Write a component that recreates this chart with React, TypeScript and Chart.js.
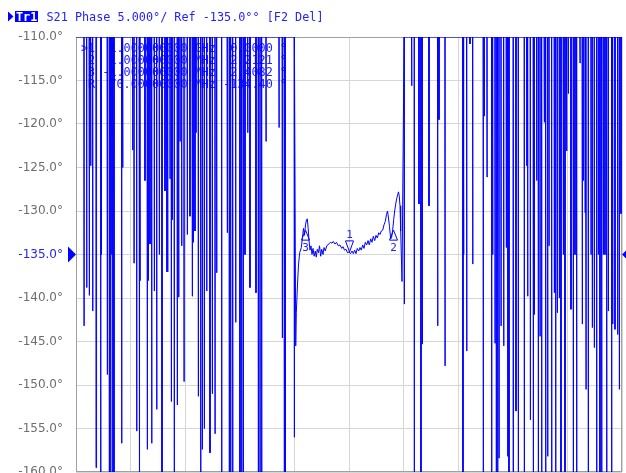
import React, { useEffect, useRef } from "react";
import { Chart, registerables } from "chart.js";

Chart.register(...registerables);

// ---- axis / scale values ----
const startMHz = 994;
const stopMHz = 1006;
const phaseMax = -110;
const phaseMin = -160;
const phaseStep = 5;
const refPhase = -135;

// ---- trace: noisy region on the left (dips from the clipped top) ----
const leftSpikeMHz = [
  994.176, 994.235, 994.292, 994.323, 994.367, 994.44, 994.455, 994.543, 994.556, 994.688,
  994.732, 994.763, 994.785, 994.807, 994.835, 995.004, 995.026, 995.246, 995.275, 995.334,
  995.391, 995.407, 995.516, 995.567, 995.589, 995.626, 995.664, 995.721, 995.774, 995.831,
  995.89, 995.956, 995.993, 996.015, 996.066, 996.095, 996.116, 996.16, 996.226, 996.257,
  996.286, 996.323, 996.374, 996.446, 996.505, 996.556, 996.578, 996.615, 996.637, 996.688,
  996.741, 996.776, 996.82, 996.873, 996.945, 996.996, 997.055, 997.092, 997.202, 997.325,
  997.369, 997.4, 997.444, 997.51, 997.604, 997.642, 997.677, 997.714, 997.774, 997.824,
  997.956, 998.007, 998.044, 998.081, 998.176, 998.462, 998.534, 998.578, 998.6, 998.798,
];
const leftSpikeDeg = [
  -143.2, -138.8, -139.7, -124.8, -141.5, -159.5, -123.8, -170, -135, -148.8,
  -170, -170, -135, -170, -170, -156.7, -125, -123, -136, -155.3,
  -170, -138, -126.5, -157.4, -138, -133.8, -156.7, -139.2, -152.8, -135,
  -170, -127.7, -137, -137, -126.3, -151.9, -131, -170, -152.3, -139.9,
  -122, -134, -149.6, -132.7, -130.6, -139.8, -133.6, -132.3, -121, -151.3,
  -170, -157.4, -155, -139.2, -157.8, -151, -155.6, -137.1, -170, -132.5,
  -170, -170, -170, -142.8, -170, -170, -170, -135, -121, -138.8,
  -139.4, -170, -170, -170, -122, -120.4, -144.6, -170, -170, -156,
];

// ---- trace: settled region around the centre ----
const centerMHz = [
  998.829, 998.842, 998.868, 998.89, 998.916, 998.952, 998.978, 999.0, 999.022, 999.044,
  999.066, 999.084, 999.103, 999.121, 999.143, 999.165, 999.187, 999.209, 999.235, 999.259,
  999.281, 999.303, 999.33, 999.352, 999.378, 999.4, 999.429, 999.451, 999.479, 999.51,
  999.538, 999.567, 999.598, 999.626, 999.655, 999.692, 999.725, 999.765, 999.802, 999.84,
  999.868, 999.901, 999.934, 999.967, 1000.0, 1000.033, 1000.066, 1000.095, 1000.125, 1000.154,
  1000.182, 1000.213, 1000.242, 1000.27, 1000.301, 1000.33, 1000.358, 1000.389, 1000.418, 1000.446,
  1000.477, 1000.505, 1000.534, 1000.565, 1000.593, 1000.622, 1000.653, 1000.681, 1000.71, 1000.741,
  1000.769, 1000.798, 1000.824, 1000.846, 1000.868, 1000.89, 1000.916, 1000.938, 1000.96, 1000.982,
  1001.004, 1001.026, 1001.048, 1001.07, 1001.088, 1001.105, 1001.121, 1001.136, 1001.15, 1001.165,
];
const centerDeg = [
  -145.5, -141.7, -138.5, -136.2, -134.8, -134.2, -133.0, -132.0, -132.8, -131.6,
  -131.0, -130.9, -132.0, -133.4, -134.5, -134.0, -135.0, -134.3, -135.2, -134.6,
  -135.3, -134.4, -134.8, -134.0, -135.2, -134.4, -135.0, -134.2, -134.6, -134.0,
  -133.9, -133.7, -133.6, -133.7, -133.5, -133.8, -133.6, -134.0, -133.9, -134.3,
  -134.1, -134.5, -134.4, -134.8, -134.7, -134.9, -134.6, -134.9, -134.5, -134.9,
  -134.3, -134.6, -134.2, -134.5, -133.9, -134.3, -133.6, -133.9, -133.4, -133.9,
  -133.2, -133.6, -132.9, -133.4, -132.8, -133.1, -132.5, -132.7, -132.3, -132.2,
  -131.6, -131.2, -130.4, -130.0, -130.8, -131.8, -133.2, -133.0, -132.2, -131.0,
  -130.0, -129.2, -128.6, -128.1, -127.8, -128.3, -129.4, -132.3, -135.0, -138.1,
];

// ---- trace: noisy region on the right ----
const rightSpikeMHz = [
  1001.215, 1001.378, 1001.435, 1001.538, 1001.582, 1001.611, 1001.758, 1001.949, 1001.978, 1002.11,
  1002.505, 1002.521, 1002.587, 1002.659, 1002.719, 1002.951, 1002.974, 1003.033, 1003.136, 1003.158,
  1003.209, 1003.237, 1003.268, 1003.297, 1003.341, 1003.4, 1003.457, 1003.488, 1003.516, 1003.611,
  1003.67, 1003.721, 1003.853, 1003.906, 1003.927, 1003.985, 1004.051, 1004.073, 1004.125, 1004.161,
  1004.198, 1004.235, 1004.292, 1004.323, 1004.367, 1004.396, 1004.455, 1004.512, 1004.543, 1004.578,
  1004.622, 1004.659, 1004.71, 1004.747, 1004.784, 1004.82, 1004.879, 1004.93, 1004.967, 1005.004,
  1005.077, 1005.127, 1005.149, 1005.187, 1005.209, 1005.259, 1005.319, 1005.347, 1005.391, 1005.444,
  1005.479, 1005.516, 1005.554, 1005.589, 1005.626, 1005.664, 1005.699, 1005.773, 1005.795, 1005.846,
  1005.905, 1005.941, 1005.978,
];
const rightSpikeDeg = [
  -140.7, -115.6, -170, -129.2, -170, -145.3, -129.4, -143.2, -119.5, -147.8,
  -170, -135, -146.1, -110.8, -136.1, -170, -119.1, -126.1, -170, -135,
  -145.2, -170, -170, -158.4, -143.2, -145.5, -134.2, -158.2, -170, -170,
  -153.0, -170, -170, -124.8, -139.8, -154.0, -170, -141.9, -126.5, -170,
  -144.4, -170, -119.8, -170, -158.2, -134, -170, -139.4, -170, -141.7,
  -140, -170, -135, -170, -123.1, -116.5, -141.3, -170, -135, -170,
  -113, -143, -126.5, -130.2, -150.5, -170, -135, -143.4, -145.7, -170,
  -135, -170, -170, -135, -135, -170, -141.5, -170, -143, -143.6,
  -144.2, -150.5, -130.3,
];

// ---- markers drawn on the trace ----
const markerNames = ["1", "2", "3"];
const markerMHz = [1000.0, 1000.96, 999.033];
const markerDeg = [-134.7, -132.2, -132.2];

// ---- marker table ----
const tableLabels = [">1", " 2", " 3", " R"];
const tableFreq = ["1.000000000", "1.000000000", "-1.000000000", "70.00000000"];
const tableUnit = ["GHz", "MHz", "MHz", "MHz"];
const tableValue = ["0.0000", "2.2121", "2.4082", "-134.40"];

const headerText = "S21 Phase 5.000°/ Ref -135.0°° [F2 Del]";

const BLUE = "#0000ff";
const TEXT_BLUE = "#2323ff";
const MONO = "'DejaVu Sans Mono', monospace";

function buildTrace() {
  const w = 0.004;
  const pts: { x: number; y: number }[] = [{ x: startMHz, y: phaseMax }];
  leftSpikeMHz.forEach((f, i) => {
    pts.push({ x: f - w, y: phaseMax }, { x: f, y: leftSpikeDeg[i] }, { x: f + w, y: phaseMax });
  });
  centerMHz.forEach((f, i) => pts.push({ x: f, y: centerDeg[i] }));
  rightSpikeMHz.forEach((f, i) => {
    pts.push({ x: f - w, y: phaseMax }, { x: f, y: rightSpikeDeg[i] }, { x: f + w, y: phaseMax });
  });
  pts.push({ x: stopMHz, y: phaseMax });
  return pts;
}

const pad = (s: string, n: number) => (s.length >= n ? s : " ".repeat(n - s.length) + s);

const overlayPlugin = {
  id: "vnaOverlay",
  beforeDatasetsDraw(chart: any) {
    const { ctx, chartArea } = chart;
    const { left, top, right, bottom } = chartArea;
    ctx.save();
    ctx.strokeStyle = "#a0a0a0";
    ctx.lineWidth = 1;
    ctx.strokeRect(left + 0.5, top + 0.5, right - left - 1, bottom - top - 1);
    // marker table
    ctx.font = `11.8px ${MONO}`;
    ctx.fillStyle = TEXT_BLUE;
    ctx.textBaseline = "alphabetic";
    ctx.textAlign = "left";
    tableLabels.forEach((lab, i) => {
      const row = lab + " " + pad(tableFreq[i], 12) + " " + tableUnit[i] + pad(tableValue[i], 8) + " °";
      ctx.fillText(row, 81, 51.5 + i * 12.2);
    });
    ctx.restore();
  },
  afterDatasetsDraw(chart: any) {
    const { ctx, scales, chartArea } = chart;
    const xs = scales.x;
    const ys = scales.y;
    ctx.save();
    ctx.strokeStyle = BLUE;
    ctx.fillStyle = TEXT_BLUE;
    ctx.lineWidth = 1;
    ctx.font = `11px ${MONO}`;
    ctx.textAlign = "center";
    markerNames.forEach((name, i) => {
      const px = Math.round(xs.getPixelForValue(markerMHz[i])) + 0.5;
      const py = ys.getPixelForValue(markerDeg[i]);
      ctx.beginPath();
      if (i === 0) {
        ctx.moveTo(px, py);
        ctx.lineTo(px - 4, py - 11);
        ctx.lineTo(px + 4, py - 11);
        ctx.closePath();
        ctx.stroke();
        ctx.fillText(name, px, py - 14);
      } else {
        ctx.moveTo(px, py);
        ctx.lineTo(px - 4, py + 10);
        ctx.lineTo(px + 4, py + 10);
        ctx.closePath();
        ctx.stroke();
        ctx.fillText(name, px, py + 21);
      }
    });
    // reference position triangles
    const ry = ys.getPixelForValue(refPhase);
    ctx.fillStyle = BLUE;
    ctx.beginPath();
    ctx.moveTo(chartArea.left - 8, ry - 8);
    ctx.lineTo(chartArea.left, ry);
    ctx.lineTo(chartArea.left - 8, ry + 8);
    ctx.closePath();
    ctx.fill();
    ctx.beginPath();
    ctx.moveTo(chartArea.right + 4, ry - 4);
    ctx.lineTo(chartArea.right, ry);
    ctx.lineTo(chartArea.right + 4, ry + 4);
    ctx.closePath();
    ctx.fill();
    ctx.restore();
  },
  afterDraw(chart: any) {
    const { ctx } = chart;
    ctx.save();
    ctx.fillStyle = BLUE;
    ctx.beginPath();
    ctx.moveTo(8, 11.5);
    ctx.lineTo(13.5, 16.5);
    ctx.lineTo(8, 21.5);
    ctx.closePath();
    ctx.fill();
    ctx.fillRect(15, 11, 23, 11);
    ctx.font = `bold 11.8px ${MONO}`;
    ctx.textAlign = "left";
    ctx.textBaseline = "alphabetic";
    ctx.fillStyle = "#ffffff";
    ctx.fillText("Tr1", 16, 20.5);
    ctx.font = `11.8px ${MONO}`;
    ctx.fillStyle = TEXT_BLUE;
    ctx.fillText(headerText, 46.5, 20.5);
    ctx.restore();
  },
};

export default function App() {
  const canvasRef = useRef<HTMLCanvasElement>(null);

  useEffect(() => {
    if (!canvasRef.current) return;
    const chart = new Chart(canvasRef.current, {
      type: "line",
      data: {
        datasets: [
          {
            data: buildTrace(),
            borderColor: BLUE,
            borderWidth: 1,
            pointRadius: 0,
            tension: 0,
            fill: false,
          },
        ],
      },
      options: {
        responsive: false,
        animation: false,
        layout: { padding: { top: 37, right: 4, bottom: 1, left: 0 } },
        plugins: { legend: { display: false }, tooltip: { enabled: false } },
        scales: {
          x: {
            type: "linear",
            min: startMHz,
            max: stopMHz,
            ticks: { display: false, count: 11 },
            grid: { color: "#d6d6d6", drawTicks: false },
            border: { display: false },
            afterFit: (s: any) => {
              s.height = 0;
              s.paddingLeft = 0;
              s.paddingRight = 0;
            },
          },
          y: {
            type: "linear",
            min: phaseMin,
            max: phaseMax,
            ticks: {
              stepSize: phaseStep,
              padding: 13,
              font: { family: "'DejaVu Sans', sans-serif", size: 12 },
              color: (c: any) => (c.tick && c.tick.value === refPhase ? TEXT_BLUE : "#6e6e6e"),
              callback: (v: any) => Number(v).toFixed(1) + "°",
            },
            grid: { color: "#d6d6d6", drawTicks: false },
            border: { display: false },
            afterFit: (s: any) => {
              s.width = 76;
              s.paddingTop = 0;
              s.paddingBottom = 0;
            },
          },
        },
      } as any,
      plugins: [overlayPlugin],
    });
    return () => chart.destroy();
  }, []);

  return (
    <div style={{ position: "absolute", left: 0, top: 0, width: 626, height: 473, background: "#ffffff" }}>
      <canvas ref={canvasRef} width={626} height={473} style={{ display: "block" }} />
    </div>
  );
}
